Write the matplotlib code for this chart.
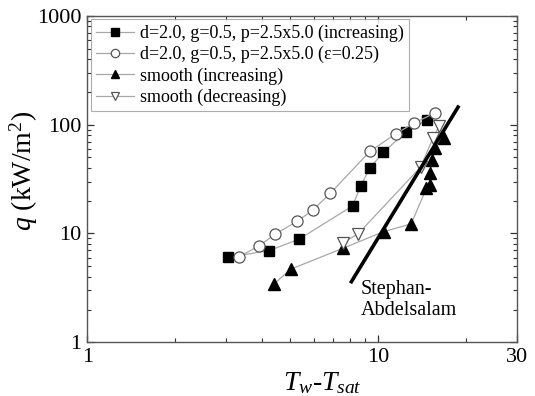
import matplotlib
matplotlib.use("Agg")
import matplotlib.pyplot as plt
from matplotlib.ticker import LogLocator, FixedLocator, NullFormatter, FixedFormatter

plt.rcParams['font.family'] = ['Liberation Serif', 'DejaVu Serif']
plt.rcParams['mathtext.fontset'] = 'custom'
plt.rcParams['mathtext.rm'] = 'Liberation Serif'
plt.rcParams['mathtext.it'] = 'Liberation Serif:italic'

# Data
sq_x = [3.05, 4.22, 5.35, 8.17, 8.72, 9.37, 10.4, 12.45, 14.7]
sq_y = [6.05, 6.96, 8.86, 17.9, 27.4, 39.9, 55.5, 84.8, 111]

ci_x = [3.33, 3.90, 4.44, 5.27, 5.98, 6.86, 9.37, 11.5, 13.3, 15.7]
ci_y = [6.13, 7.69, 9.92, 12.9, 16.5, 23.5, 56.7, 82.5, 103.5, 128]

tu_x = [4.39, 5.01, 7.58, 10.46, 13.0, 14.67, 15.05, 15.14, 15.38, 15.66, 16.86]
tu_y = [3.44, 4.70, 7.32, 10.4, 12.25, 26.1, 28.0, 36.1, 47.5, 60.9, 75.3]

td_x = [7.58, 8.54, 14.0, 15.45, 16.2]
td_y = [8.25, 9.92, 40.7, 75.3, 96.3]

sa_x = [8.10, 18.84]
sa_y = [3.61, 145]

labels = ["d=2.0, g=0.5, p=2.5x5.0 (increasing)",
          "d=2.0, g=0.5, p=2.5x5.0 (\u03b5=0.25)",
          "smooth (increasing)",
          "smooth (decreasing)"]

fig = plt.figure(figsize=(5.35, 3.96), dpi=100)
ax = fig.add_axes([0.163, 0.1356, 0.803, 0.8244])

lc = '#a8a8a8'
ax.plot(sq_x, sq_y, '-', color=lc, lw=0.9, marker='s', ms=7, mfc='black', mec='black', label=labels[0])
ax.plot(ci_x, ci_y, '-', color=lc, lw=0.9, marker='o', ms=8, mfc='white', mec='#555555', mew=0.9, label=labels[1])
ax.plot(tu_x, tu_y, '-', color=lc, lw=0.9, marker='^', ms=8.5, mfc='black', mec='black', label=labels[2])
ax.plot(td_x, td_y, '-', color=lc, lw=0.9, marker='v', ms=8.5, mfc='white', mec='#555555', mew=0.9, label=labels[3])
ax.plot(sa_x, sa_y, '-', color='black', lw=2.6)

ax.text(8.72, 2.45, "Stephan-\nAbdelsalam", fontsize=14.5, ha='left', va='center', linespacing=1.1)

ax.set_xscale('log')
ax.set_yscale('log')
ax.set_xlim(1, 30)
ax.set_ylim(1, 1000)

ax.xaxis.set_major_locator(FixedLocator([1, 10, 30]))
ax.xaxis.set_major_formatter(FixedFormatter(['1', '10', '30']))
ax.xaxis.set_minor_locator(FixedLocator([2, 3, 4, 5, 6, 7, 8, 9, 20]))
ax.xaxis.set_minor_formatter(NullFormatter())
ax.yaxis.set_major_locator(FixedLocator([1, 10, 100, 1000]))
ax.yaxis.set_major_formatter(FixedFormatter(['1', '10', '100', '1000']))
ax.yaxis.set_minor_locator(LogLocator(base=10, subs=range(2, 10), numticks=20))
ax.yaxis.set_minor_formatter(NullFormatter())

ax.tick_params(which='both', direction='in', top=True, right=True, colors='#333333', labelcolor='black')
ax.tick_params(which='major', length=5, width=0.9, labelsize=16, pad=4)
ax.tick_params(which='minor', length=3, width=0.8)
for s in ax.spines.values():
    s.set_color('#555555')
    s.set_linewidth(1.0)

ax.set_ylabel(r"$q$ (kW/m$^2$)", fontsize=20)
ax.yaxis.set_label_coords(-0.11, 0.524)
ax.set_xlabel(r"$T_w$-$T_{sat}$", fontsize=20)
ax.xaxis.set_label_coords(0.548, -0.085)

leg = ax.legend(loc='upper left', fontsize=13, frameon=True, fancybox=False,
                edgecolor='#999999', borderpad=0.3, labelspacing=0.22,
                handlelength=2.1, handletextpad=0.3, borderaxespad=0.2,
                markerscale=0.75)
leg.get_frame().set_linewidth(0.8)

fig.savefig("out.png", dpi=100)
